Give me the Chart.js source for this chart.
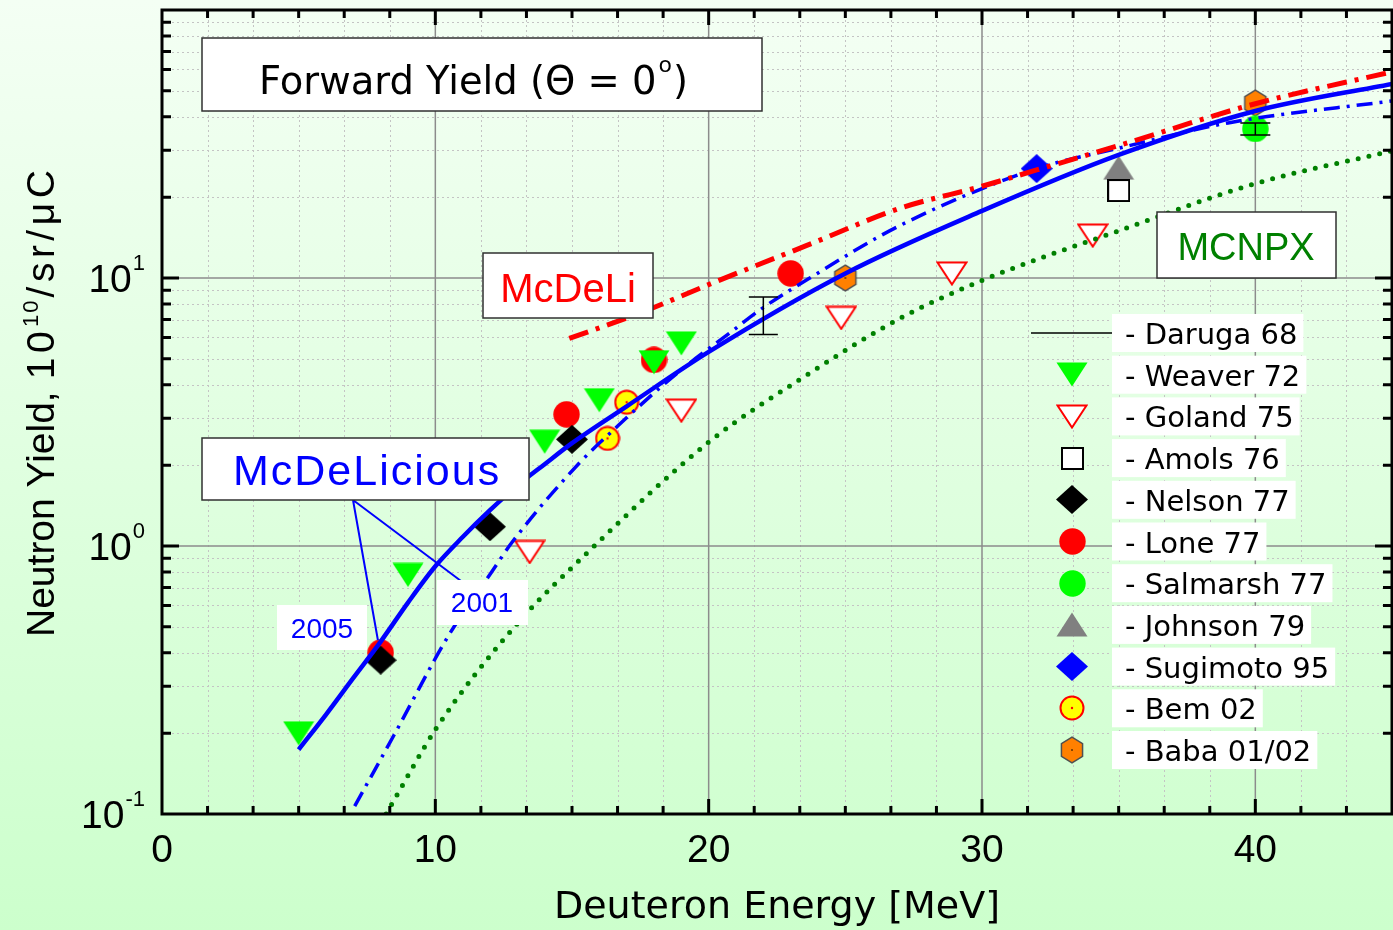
<!DOCTYPE html>
<html>
<head>
<meta charset="utf-8">
<title>Forward neutron yield vs deuteron energy</title>
<script src="https://cdn.jsdelivr.net/npm/chart.js@4/dist/chart.umd.min.js"></script>
<style>
  html, body { margin: 0; padding: 0; background: #ccffcc; }
  canvas { display: block; }
</style>
</head>
<body>
<canvas id="c" width="1393" height="930"></canvas>
<script>
// ---------- measured yields (10^10 n/sr/uC) vs deuteron energy (MeV) ----------
const weaverE   = [5, 9, 14, 16, 18, 19];
const weaverY   = [0.2, 0.78, 2.45, 3.5, 4.85, 5.7];
const golandE   = [13.45, 19, 24.85, 28.9, 34.05];
const golandY   = [0.95, 3.2, 7.1, 10.4, 14.4];
const amolsE    = [35];
const amolsY    = [21.2];
const nelsonE   = [8, 12, 15];
const nelsonY   = [0.375, 1.18, 2.5];
const loneE     = [8, 14.8, 18, 23];
const loneY     = [0.4, 3.1, 4.95, 10.4];
const salmarshE = [40];
const salmarshY = [36];
const salmarshLo = [34.2];
const salmarshHi = [37.9];
const johnsonE  = [35];
const johnsonY  = [25.8];
const sugimotoE = [32];
const sugimotoY = [25.6];
const bemE      = [16.3, 17];
const bemY      = [2.52, 3.44];
const babaE     = [25, 40];
const babaY     = [10, 45];
const darugaE   = [22];
const darugaY   = [7.2];
const darugaLo  = [6.15];
const darugaHi  = [8.5];

// ---------- calculations ----------
const mcdelicious05E = [5, 6, 7, 8, 9, 10, 11, 12, 13, 14, 15, 17, 20, 25, 30, 35, 40, 45];
const mcdelicious05Y = [0.174, 0.235, 0.322, 0.44, 0.615, 0.84, 1.08, 1.36, 1.68, 2.02, 2.42, 3.32, 5.3, 10.4, 17.8, 28.8, 42, 53];
const mcdelicious01E = [7.05, 8.5, 10.5, 12.06, 12.8, 15.27, 16.7, 18.2, 19.3, 20.75, 21.85, 23.7, 27, 32, 35, 39, 45];
const mcdelicious01Y = [0.107, 0.198, 0.466, 0.8, 1.03, 2.04, 2.82, 3.88, 4.81, 6.21, 7.57, 10.0, 15.7, 25.6, 30.5, 37.9, 45.8];
const mcdeliE  = [14.9, 17.46, 20.1, 23.57, 27, 30, 32, 35, 40, 45];
const mcdeliY  = [5.95, 7.38, 9.54, 13.2, 18.2, 22, 25.3, 31.2, 44.7, 58.8];
const mcnpxE   = [8.2, 10.05, 12.9, 15.7, 20, 23.57, 27, 30, 35, 40, 45];
const mcnpxY   = [0.1, 0.21, 0.5, 0.974, 2.44, 4.33, 7.07, 9.79, 15.0, 22.5, 29.8];

// ---------- axes ----------
const xTickValues = [0, 10, 20, 30, 40];
const yTickExponents = [-1, 0, 1];
const xMin = 0, xMax = 45, yMin = 0.1, yMax = 100;
const xMinorPerMajor = 6;

// callout target on the 2005 curve
const callout2005 = { x: 7.9, y: 0.445 };

const zip = (xs, ys) => xs.map((x, i) => ({ x, y: ys[i] }));

// ---------- marker sprites ----------
function sprite(w, h, paint) {
  const c = document.createElement('canvas');
  c.width = w; c.height = h;
  paint(c.getContext('2d'), w, h);
  return c;
}
function downTri(fill, stroke) {
  return sprite(32, 25, (g, w, h) => {
    const i = stroke ? 1.5 : 0.5;
    g.beginPath();
    g.moveTo(i, i); g.lineTo(w - i, i); g.lineTo(w / 2, h - i); g.closePath();
    g.fillStyle = fill; g.fill();
    if (stroke) { g.lineWidth = 2; g.strokeStyle = stroke; g.stroke(); }
  });
}
function upTri(fill) {
  return sprite(32, 25, (g, w, h) => {
    g.beginPath();
    g.moveTo(w / 2, 0.5); g.lineTo(w - 0.5, h - 0.5); g.lineTo(0.5, h - 0.5); g.closePath();
    g.fillStyle = fill; g.fill();
  });
}
function diamond(fill) {
  return sprite(32, 29, (g, w, h) => {
    g.beginPath();
    g.moveTo(w / 2, 0); g.lineTo(w, h / 2); g.lineTo(w / 2, h); g.lineTo(0, h / 2); g.closePath();
    g.fillStyle = fill; g.fill();
  });
}
function disc(fill, d) {
  return sprite(d, d, (g, w) => {
    g.beginPath(); g.arc(w / 2, w / 2, w / 2 - 0.3, 0, Math.PI * 2);
    g.fillStyle = fill; g.fill();
  });
}
const markers = {
  weaver: downTri('#00ff00'),
  goland: downTri('#ffffff', '#ff0000'),
  amols: sprite(23, 23, (g, w) => {
    g.fillStyle = '#fff'; g.fillRect(1, 1, w - 2, w - 2);
    g.lineWidth = 2; g.strokeStyle = '#000'; g.strokeRect(1, 1, w - 2, w - 2);
  }),
  nelson: diamond('#000000'),
  lone: disc('#ff0000', 27),
  salmarsh: disc('#00ff00', 27),
  johnson: upTri('#808080'),
  sugimoto: diamond('#0000ff'),
  bem: sprite(26, 26, (g, w) => {
    g.beginPath(); g.arc(w / 2, w / 2, 11.5, 0, Math.PI * 2);
    g.fillStyle = '#ffff00'; g.fill();
    g.lineWidth = 2; g.strokeStyle = '#ff0000'; g.stroke();
    g.beginPath(); g.arc(w / 2, w / 2, 1.2, 0, Math.PI * 2);
    g.fillStyle = '#ff0000'; g.fill();
  }),
  baba: sprite(26, 28, (g, w, h) => {
    g.beginPath();
    for (let k = 0; k < 6; k++) {
      const a = -Math.PI / 2 + k * Math.PI / 3;
      const px = w / 2 + 12.2 * Math.cos(a), py = h / 2 + 12.8 * Math.sin(a);
      k ? g.lineTo(px, py) : g.moveTo(px, py);
    }
    g.closePath();
    g.fillStyle = '#ff8000'; g.fill();
    g.lineWidth = 1.5; g.strokeStyle = '#505050'; g.stroke();
    g.beginPath(); g.arc(w / 2, h / 2, 1, 0, Math.PI * 2);
    g.fillStyle = '#603000'; g.fill();
  })
};

// ---------- datasets ----------
function points(label, xs, ys, style, extra) {
  return Object.assign({
    label, data: zip(xs, ys), showLine: false,
    pointStyle: style, pointRadius: 12, pointHoverRadius: 12, order: 5
  }, extra || {});
}
function curve(label, xs, ys, color, width, dash, cap) {
  return {
    label, data: zip(xs, ys), showLine: true, fill: false,
    borderColor: color, borderWidth: width, borderDash: dash,
    borderCapStyle: cap || 'butt', pointRadius: 0, pointHoverRadius: 0,
    cubicInterpolationMode: 'monotone', order: 1, isCurve: true
  };
}

const datasets = [
  points('Daruga 68', darugaE, darugaY, 'circle', { pointRadius: 0, legendLine: true, errLo: darugaLo, errHi: darugaHi, capHalf: 14.5 }),
  points('Weaver 72', weaverE, weaverY, markers.weaver),
  points('Goland 75', golandE, golandY, markers.goland),
  points('Amols 76', amolsE, amolsY, markers.amols),
  points('Nelson 77', nelsonE, nelsonY, markers.nelson),
  points('Lone 77', loneE, loneY, markers.lone),
  points('Salmarsh 77', salmarshE, salmarshY, markers.salmarsh, { errLo: salmarshLo, errHi: salmarshHi, capHalf: 15 }),
  points('Johnson 79', johnsonE, johnsonY, markers.johnson),
  points('Sugimoto 95', sugimotoE, sugimotoY, markers.sugimoto),
  points('Bem 02', bemE, bemY, markers.bem),
  points('Baba 01/02', babaE, babaY, markers.baba),
  curve('MCNPX', mcnpxE, mcnpxY, '#008000', 5, [0, 11], 'round'),
  curve('McDeLicious 2001', mcdelicious01E, mcdelicious01Y, '#0000ff', 3.5, [16, 7, 3, 7]),
  curve('McDeLicious 2005', mcdelicious05E, mcdelicious05Y, '#0000ff', 4.5, []),
  curve('McDeLi', mcdeliE, mcdeliY, '#ff0000', 5, [20, 8, 4, 8])
];
// red McDeLi on top
datasets[datasets.length - 1].order = 0;

// ---------- drawing helpers ----------
const SANS = '"Liberation Sans", Arial, sans-serif';
const VERD = '"DejaVu Sans", Verdana, sans-serif';

function box(ctx, x0, y0, x1, y1, border) {
  ctx.fillStyle = '#ffffff';
  ctx.fillRect(x0, y0, x1 - x0, y1 - y0);
  if (border) {
    ctx.lineWidth = 1.5; ctx.strokeStyle = '#303030';
    ctx.strokeRect(x0, y0, x1 - x0, y1 - y0);
  }
}
function minorXValues() {
  const out = [], step = 10 / xMinorPerMajor;
  for (let k = 1; k * step < xMax - 1e-6; k++) out.push({ v: k * step, major: k % xMinorPerMajor === 0 });
  return out;
}
function yValues() {
  const out = [];
  for (let d = -1; d <= 1; d++) for (let m = 1; m <= 9; m++) {
    const v = m * Math.pow(10, d);
    if (v > yMin * 1.0001 && v < yMax * 0.9999) out.push({ v, major: m === 1 });
  }
  return out;
}

const decor = {
  id: 'decor',
  beforeDraw(chart) {
    const { ctx, width, height } = chart;
    const g = ctx.createLinearGradient(0, 0, 0, height);
    g.addColorStop(0, '#f4fff4');
    g.addColorStop(1, '#ccffcc');
    ctx.save(); ctx.fillStyle = g; ctx.fillRect(0, 0, width, height); ctx.restore();
  },
  beforeDatasetsDraw(chart) {
    const { ctx, chartArea: a, scales: { x, y } } = chart;
    ctx.save();
    // dotted minor grid
    ctx.lineWidth = 1; ctx.strokeStyle = '#c4c4c4'; ctx.setLineDash([2, 3]);
    ctx.beginPath();
    minorXValues().filter(t => !t.major).forEach(t => {
      const p = Math.round(x.getPixelForValue(t.v)) + 0.5;
      ctx.moveTo(p, a.top); ctx.lineTo(p, a.bottom);
    });
    yValues().filter(t => !t.major).forEach(t => {
      const p = Math.round(y.getPixelForValue(t.v)) + 0.5;
      ctx.moveTo(a.left, p); ctx.lineTo(a.right, p);
    });
    ctx.stroke();
    // solid major grid
    ctx.setLineDash([]); ctx.lineWidth = 1.5; ctx.strokeStyle = '#8c8c8c';
    ctx.beginPath();
    minorXValues().filter(t => t.major).forEach(t => {
      const p = x.getPixelForValue(t.v);
      ctx.moveTo(p, a.top); ctx.lineTo(p, a.bottom);
    });
    yValues().filter(t => t.major).forEach(t => {
      const p = y.getPixelForValue(t.v);
      ctx.moveTo(a.left, p); ctx.lineTo(a.right, p);
    });
    ctx.stroke();
    ctx.restore();
  },
  afterDatasetsDraw(chart) {
    const { ctx, chartArea: a, scales: { x, y } } = chart;
    ctx.save();

    // error bars
    ctx.strokeStyle = '#000'; ctx.lineWidth = 1.5;
    chart.data.datasets.forEach(ds => {
      if (!ds.errLo) return;
      ds.data.forEach((pt, i) => {
        const px = x.getPixelForValue(pt.x);
        const lo = y.getPixelForValue(ds.errLo[i]);
        const hi = y.getPixelForValue(ds.errHi[i]);
        ctx.beginPath();
        ctx.moveTo(px, lo); ctx.lineTo(px, hi);
        ctx.moveTo(px - ds.capHalf, lo); ctx.lineTo(px + ds.capHalf, lo);
        ctx.moveTo(px - ds.capHalf, hi); ctx.lineTo(px + ds.capHalf, hi);
        ctx.stroke();
      });
    });

    // frame and inward ticks on all four sides
    ctx.strokeStyle = '#000'; ctx.lineWidth = 3;
    ctx.beginPath();
    minorXValues().forEach(t => {
      const p = x.getPixelForValue(t.v), L = t.major ? 15 : 8;
      ctx.moveTo(p, a.bottom); ctx.lineTo(p, a.bottom - L);
      ctx.moveTo(p, a.top); ctx.lineTo(p, a.top + L);
    });
    yValues().forEach(t => {
      const p = y.getPixelForValue(t.v), L = t.major ? 17 : 9;
      ctx.moveTo(a.left, p); ctx.lineTo(a.left + L, p);
      ctx.moveTo(a.right, p); ctx.lineTo(a.right - L, p);
    });
    ctx.stroke();
    ctx.strokeRect(a.left, a.top, a.right - a.left, a.bottom - a.top);

    // x tick labels
    ctx.fillStyle = '#000'; ctx.textBaseline = 'alphabetic'; ctx.textAlign = 'center';
    ctx.font = '39px ' + SANS;
    xTickValues.forEach(v => ctx.fillText(String(v), x.getPixelForValue(v), a.bottom + 48));

    // y tick labels 10^n
    ctx.textAlign = 'left';
    yTickExponents.forEach(n => {
      const py = y.getPixelForValue(Math.pow(10, n));
      const exp = String(n);
      ctx.font = '22px ' + SANS;
      const ew = ctx.measureText(exp).width;
      ctx.font = '39px ' + SANS;
      const bw = ctx.measureText('10').width;
      const x0 = 145 - ew - bw - 1;
      ctx.fillText('10', x0, py + 14);
      ctx.font = '22px ' + SANS;
      ctx.fillText(exp, x0 + bw + 1, py - 8);
    });

    // x axis title
    ctx.font = '38px ' + VERD; ctx.textAlign = 'center';
    ctx.fillText('Deuteron Energy [MeV]', (a.left + a.right) / 2, 918);

    // y axis title (rotated)
    ctx.save();
    ctx.translate(54, 637); ctx.rotate(-Math.PI / 2);
    ctx.textAlign = 'left';
    ctx.font = '39px ' + SANS;
    const main = 'Neutron Yield,';
    ctx.fillText(main, 0, 0);
    let p = ctx.measureText(main).width + 12;
    ctx.letterSpacing = '4.5px';
    ctx.fillText('10', p, 0);
    p += ctx.measureText('10').width;
    ctx.font = '22px ' + SANS;
    ctx.letterSpacing = '2px';
    ctx.fillText('10', p, -16);
    p += ctx.measureText('10').width + 1;
    ctx.font = '39px ' + SANS;
    ctx.letterSpacing = '4.5px';
    ctx.fillText('/sr/\u03bcC', p, 0);
    ctx.letterSpacing = '0px';
    ctx.restore();

    // title box
    box(ctx, 202, 38, 762, 111, true);
    ctx.textAlign = 'left'; ctx.fillStyle = '#000';
    ctx.font = '38.5px ' + VERD;
    const t1 = 'Forward Yield (\u0398 = 0';
    ctx.fillText(t1, 259, 94);
    let tx = 259 + ctx.measureText(t1).width + 2;
    ctx.font = '22px ' + VERD;
    ctx.fillText('o', tx, 72);
    tx += ctx.measureText('o').width + 1;
    ctx.font = '38.5px ' + VERD;
    ctx.fillText(')', tx, 94);

    // callout lines from the McDeLicious label
    ctx.strokeStyle = '#0000ff'; ctx.lineWidth = 2;
    ctx.beginPath();
    ctx.moveTo(353, 500); ctx.lineTo(x.getPixelForValue(callout2005.x), y.getPixelForValue(callout2005.y));
    ctx.moveTo(353, 500); ctx.lineTo(465, 584);
    ctx.stroke();

    // curve labels
    box(ctx, 202, 438, 529, 500, true);
    ctx.fillStyle = '#0000ff'; ctx.font = '43px ' + SANS;
    ctx.letterSpacing = '2px';
    ctx.fillText('McDeLicious', 233, 485);
    ctx.letterSpacing = '0px';

    box(ctx, 277, 605, 367, 650, false);
    box(ctx, 437, 580, 528, 625, false);
    ctx.font = '28px ' + SANS; ctx.textAlign = 'center'; ctx.fillStyle = '#0000ff';
    ctx.fillText('2005', 322, 638);
    ctx.fillText('2001', 482, 612);

    box(ctx, 483, 253, 653, 318, true);
    ctx.fillStyle = '#ff0000'; ctx.font = '40px ' + SANS;
    ctx.fillText('McDeLi', 568, 302);

    box(ctx, 1157, 212, 1336, 278, true);
    ctx.fillStyle = '#008000'; ctx.font = '38px ' + SANS;
    ctx.fillText('MCNPX', 1246, 260);

    // legend
    ctx.textAlign = 'left';
    const entries = chart.data.datasets.filter(d => !d.isCurve);
    entries.forEach((ds, i) => {
      const ry = 333 + i * 41.7;
      ctx.font = '29px ' + VERD;
      const label = '- ' + ds.label;
      const w = ctx.measureText(label).width;
      box(ctx, 1112, ry - 19, 1125 + w + 6, ry + 19, false);
      ctx.fillStyle = '#000';
      ctx.fillText(label, 1125, ry + 11);
      if (ds.legendLine) {
        ctx.strokeStyle = '#000'; ctx.lineWidth = 1.5;
        ctx.beginPath(); ctx.moveTo(1031, ry); ctx.lineTo(1112, ry); ctx.stroke();
      } else {
        const s = ds.pointStyle;
        ctx.drawImage(s, Math.round(1072 - s.width / 2), Math.round(ry - s.height / 2));
      }
    });

    ctx.restore();
  }
};

new Chart(document.getElementById('c'), {
  type: 'scatter',
  data: { datasets },
  options: {
    responsive: false,
    animation: false,
    devicePixelRatio: 1,
    events: [],
    layout: { autoPadding: false, padding: { top: 10, right: 1, left: 0, bottom: 0 } },
    plugins: { legend: { display: false }, tooltip: { enabled: false } },
    scales: {
      x: {
        type: 'linear', min: xMin, max: xMax,
        grid: { display: false, drawTicks: false },
        border: { display: false },
        ticks: { display: false },
        afterBuildTicks: s => { s.ticks = xTickValues.map(v => ({ value: v })); },
        afterFit: s => { s.height = 116; }
      },
      y: {
        type: 'logarithmic', min: yMin, max: yMax,
        grid: { display: false, drawTicks: false },
        border: { display: false },
        ticks: { display: false },
        afterFit: s => { s.width = 162; }
      }
    }
  },
  plugins: [decor]
});
</script>
</body>
</html>
